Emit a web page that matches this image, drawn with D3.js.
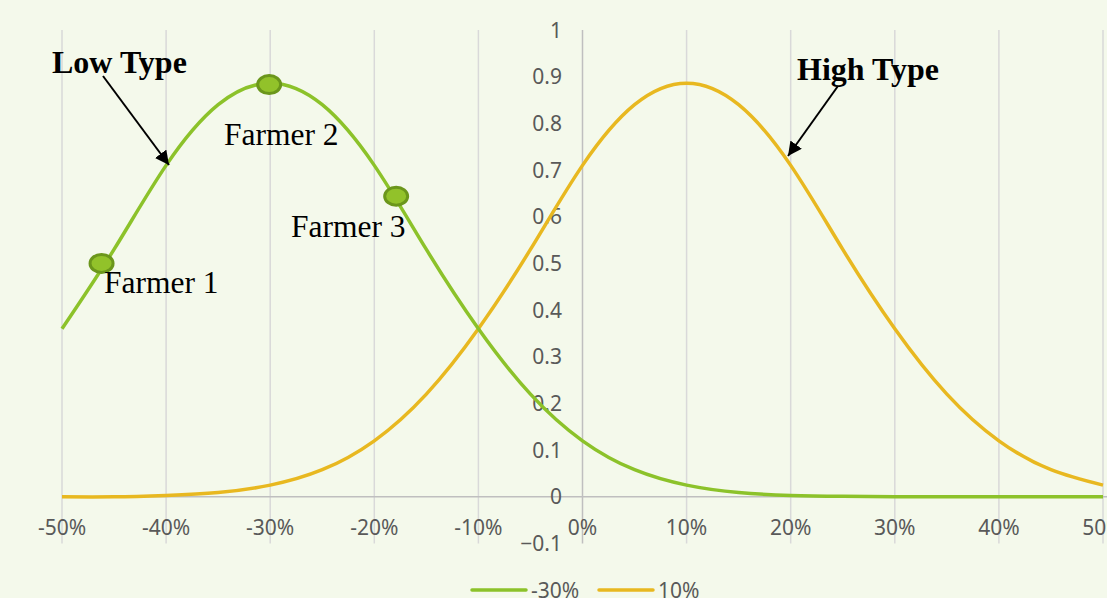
<!DOCTYPE html>
<html>
<head>
<meta charset="utf-8">
<script src="https://cdn.jsdelivr.net/npm/d3@7"></script>
<style>
  body { margin: 0; background: #f4f9eb; }
  svg { display: block; }
</style>
</head>
<body>
<div class="chart"></div>
<script>
// x positions (percent) and series values
const xs = [-50, -45, -40, -35, -30, -25, -20, -15, -10, -5, 0, 5, 10, 15, 20, 25, 30, 35, 40, 45, 50];
const lowType = [0.36, 0.53, 0.71, 0.84, 0.886, 0.84, 0.71, 0.53, 0.36, 0.22, 0.12, 0.058, 0.025, 0.009, 0.003, 0.001, 0, 0, 0, 0, 0];
const highType = [0, 0, 0.003, 0.009, 0.025, 0.058, 0.12, 0.22, 0.36, 0.53, 0.71, 0.84, 0.886, 0.84, 0.71, 0.53, 0.36, 0.22, 0.12, 0.058, 0.025];
const seriesNames = ["-30%", "10%"];
const xTicks = [-50, -40, -30, -20, -10, 0, 10, 20, 30, 40, 50];
const yTicks = [-0.1, 0, 0.1, 0.2, 0.3, 0.4, 0.5, 0.6, 0.7, 0.8, 0.9, 1];
const farmers = [
  { name: "Farmer 1", x: -46.2, y: 0.50 },
  { name: "Farmer 2", x: -30.1, y: 0.883 },
  { name: "Farmer 3", x: -17.9, y: 0.644 }
];

const W = 1107, H = 598;
const green = "#8cc22a", yellow = "#e8b820";
const labelFont = "'Noto Sans', sans-serif";
const serif = "'Liberation Serif', 'Times New Roman', serif";

const x = d3.scaleLinear().domain([-50, 50]).range([62, 1103]);
const y = d3.scaleLinear().domain([-0.1, 1]).range([543.5, 30]);

const svg = d3.select(".chart").append("svg")
  .attr("width", W).attr("height", H);

svg.append("rect").attr("width", W).attr("height", H).attr("fill", "#f4f9eb");

// vertical gridlines
svg.append("g")
  .selectAll("line")
  .data(xTicks.filter(d => d !== 0))
  .join("line")
  .attr("x1", d => x(d)).attr("x2", d => x(d))
  .attr("y1", y(1)).attr("y2", y(-0.1))
  .attr("stroke", "#d9d9d9").attr("stroke-width", 1.5);

// x axis (at y = 0)
svg.append("line")
  .attr("x1", x(-50)).attr("x2", W)
  .attr("y1", y(0)).attr("y2", y(0))
  .attr("stroke", "#bfbfbf").attr("stroke-width", 1.5);

// y axis (at x = 0)
svg.append("line")
  .attr("x1", x(0)).attr("x2", x(0))
  .attr("y1", y(1)).attr("y2", y(-0.1))
  .attr("stroke", "#bfbfbf").attr("stroke-width", 1.5);

// x tick labels
svg.append("g")
  .selectAll("text")
  .data(xTicks)
  .join("text")
  .attr("x", d => x(d))
  .attr("y", 535)
  .attr("text-anchor", "middle")
  .attr("font-family", labelFont)
  .attr("font-size", 21)
  .attr("fill", "#595959")
  .text(d => d + "%");

// y tick labels
svg.append("g")
  .selectAll("text")
  .data(yTicks)
  .join("text")
  .attr("x", 562)
  .attr("y", d => y(d) + 7.5)
  .attr("text-anchor", "end")
  .attr("font-family", labelFont)
  .attr("font-size", 21)
  .attr("fill", "#595959")
  .text(d => d3.format("")(+d.toFixed(1)));

// curves
const line = d3.line()
  .x((d, i) => x(xs[i]))
  .y(d => y(d))
  .curve(d3.curveNatural);

svg.append("path")
  .datum(highType)
  .attr("d", line)
  .attr("fill", "none")
  .attr("stroke", yellow)
  .attr("stroke-width", 3.5);

svg.append("path")
  .datum(lowType)
  .attr("d", line)
  .attr("fill", "none")
  .attr("stroke", green)
  .attr("stroke-width", 3.5);

// farmer markers
svg.append("g")
  .selectAll("ellipse")
  .data(farmers)
  .join("ellipse")
  .attr("cx", d => x(d.x))
  .attr("cy", d => y(d.y))
  .attr("rx", 11.5).attr("ry", 9)
  .attr("fill", "#92c22a")
  .attr("stroke", "#6b961b")
  .attr("stroke-width", 3);

// annotations
const notes = [
  { text: "Farmer 1", x: 104, y: 293, bold: false },
  { text: "Farmer 2", x: 224, y: 145, bold: false },
  { text: "Farmer 3", x: 291, y: 237, bold: false },
  { text: "Low Type", x: 52, y: 73, bold: true },
  { text: "High Type", x: 797, y: 80, bold: true }
];
svg.append("g")
  .selectAll("text")
  .data(notes)
  .join("text")
  .attr("x", d => d.x)
  .attr("y", d => d.y)
  .attr("font-family", serif)
  .attr("font-size", d => d.bold ? 32 : 31.5)
  .attr("font-weight", d => d.bold ? "bold" : "normal")
  .attr("fill", "#000")
  .text(d => d.text);

svg.append("defs").append("marker")
  .attr("id", "arrow")
  .attr("viewBox", "0 0 10 10")
  .attr("refX", 10).attr("refY", 5)
  .attr("markerWidth", 7).attr("markerHeight", 7)
  .attr("markerUnits", "strokeWidth")
  .attr("orient", "auto")
  .append("path")
  .attr("d", "M0,0 L10,5 L0,10 z")
  .attr("fill", "#000");

const arrows = [
  { x1: 103, y1: 76, x2: 169, y2: 165 },
  { x1: 838, y1: 86, x2: 788, y2: 156 }
];
svg.append("g")
  .selectAll("line")
  .data(arrows)
  .join("line")
  .attr("x1", d => d.x1).attr("y1", d => d.y1)
  .attr("x2", d => d.x2).attr("y2", d => d.y2)
  .attr("stroke", "#000")
  .attr("stroke-width", 2)
  .attr("marker-end", "url(#arrow)");

// legend
const legend = svg.append("g");
const legendItems = [
  { name: seriesNames[0], color: green, x: 472 },
  { name: seriesNames[1], color: yellow, x: 599 }
];
legendItems.forEach(d => {
  legend.append("line")
    .attr("x1", d.x).attr("x2", d.x + 54)
    .attr("y1", 590).attr("y2", 590)
    .attr("stroke", d.color).attr("stroke-width", 3.5)
    .attr("stroke-linecap", "round");
  legend.append("text")
    .attr("x", d.x + 59)
    .attr("y", 598)
    .attr("font-family", labelFont)
    .attr("font-size", 21)
    .attr("fill", "#595959")
    .text(d.name);
});
</script>
</body>
</html>
